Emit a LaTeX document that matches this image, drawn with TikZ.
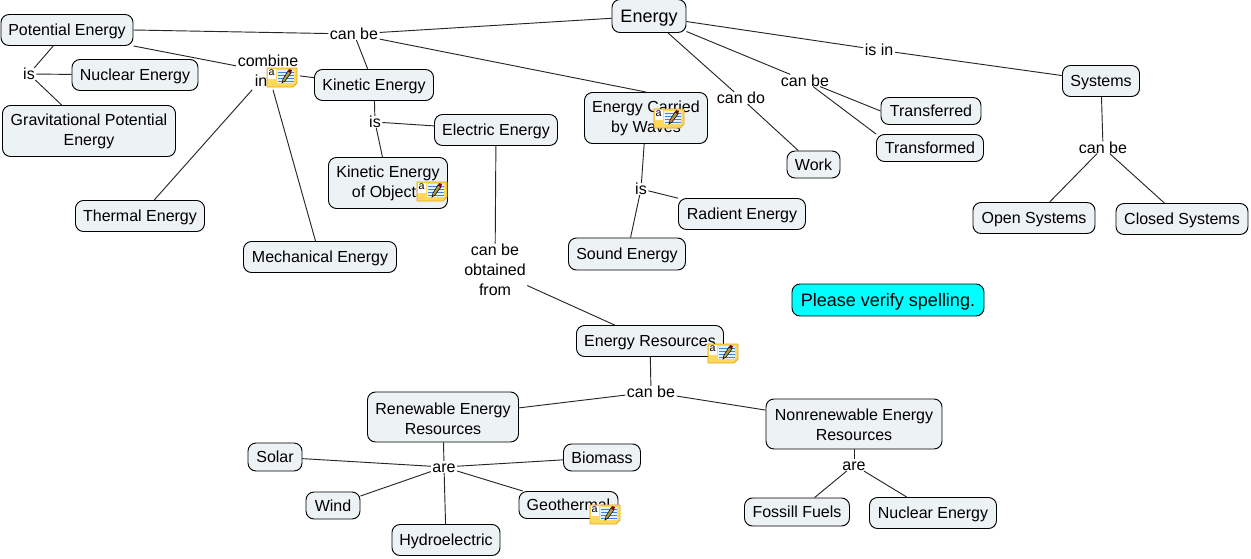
\documentclass[tikz,border=0pt]{standalone}
\usepackage{fontspec}
\setmainfont{Liberation Sans}
\usetikzlibrary{
    positioning,
    calc
}
\definecolor{conceptfill}{rgb}{0.93, 0.95, 0.96}
\definecolor{verifyfill}{rgb}{0.0, 1.0, 1.0}
\definecolor{notefill}{rgb}{1.0, 0.85, 0.35}
\definecolor{noteedge}{rgb}{0.88, 0.66, 0.10}
\definecolor{notepage}{rgb}{0.90, 0.95, 1.0}
\definecolor{noteline}{rgb}{0.25, 0.50, 0.85}
\definecolor{linkgray}{rgb}{0.15, 0.15, 0.15}
\tikzstyle{concept} = [
    rectangle,
    rounded corners=6pt,
    draw=black,
    line width=0.7pt,
    fill=conceptfill,
    inner sep=0pt,
    align=center,
    text height=8.7pt,
    text depth=0pt,
    font=\fontsize{12}{15}\selectfont
]
\tikzstyle{linkword} = [
    inner xsep=1pt,
    inner ysep=0pt,
    align=center,
    text height=8.7pt,
    text depth=0pt,
    font=\fontsize{12}{15}\selectfont
]
\tikzstyle{twolines} = [
    text height=23.7pt,
    text depth=2.5pt
]
\tikzstyle{threelines} = [
    text height=38.7pt,
    text depth=2pt
]
\tikzstyle{bigtext} = [
    text height=9.7pt,
    text depth=0pt,
    font=\fontsize{13.5}{15}\selectfont
]
\tikzstyle{link} = [
    draw=linkgray,
    line width=0.7pt
]
\tikzset{
    notemark/.pic = {
        \draw[noteedge, fill=notefill, line width=0.6pt]
            (0,0) -- (30,0) -- (30,15) -- (26,19) -- (0,19) -- cycle;
        \fill[white] (1,1) rectangle (9,11);
        \fill[notepage] (10,2) rectangle (27,15);
        \foreach \y in {4,7,10,13}
            \draw[noteline, line width=0.6pt] (11,\y) -- (27,\y);
        \draw[black, fill=notefill!70!black, line width=0.4pt] (15,15) -- (16,11) -- (21,3) -- (24,5) -- (18,13) -- cycle;
        \fill[red!50!black] (21,3) -- (24,5) -- (25,2) -- (22,1) -- cycle;
        \node[inner sep=0pt, font=\fontsize{8}{8}\selectfont] at (4.5,5) {a};
    }
}
\begin{document}
\begin{tikzpicture}[x=0.75pt, y=-0.75pt]
    \useasboundingbox (0,0) rectangle (1251,558);

    % Top row
    \node[concept, bigtext, minimum width=74*0.75pt, minimum height=33*0.75pt] (energy) at (649,16) {Energy};
    \node[concept, minimum width=132*0.75pt, minimum height=31*0.75pt] (potential) at (67,30) {Potential Energy};
    \node[concept, minimum width=126*0.75pt, minimum height=31*0.75pt] (nuclearA) at (135,75) {Nuclear Energy};
    \node[concept, twolines, minimum width=173*0.75pt, minimum height=51*0.75pt] (gravity) at (89,131) {Gravitational Potential\\Energy};
    \node[concept, minimum width=119*0.75pt, minimum height=31*0.75pt] (kinetic) at (374,85) {Kinetic Energy};
    \node[concept, minimum width=123*0.75pt, minimum height=31*0.75pt] (electric) at (496,130) {Electric Energy};
    \node[concept, twolines, minimum width=119*0.75pt, minimum height=51*0.75pt] (objects) at (388,183) {Kinetic Energy\\of Objects};
    \node[concept, minimum width=129*0.75pt, minimum height=31*0.75pt] (thermal) at (140,216) {Thermal Energy};
    \node[concept, minimum width=153*0.75pt, minimum height=31*0.75pt] (mechanical) at (320,257) {Mechanical Energy};

    % Waves
    \node[concept, twolines, minimum width=123*0.75pt, minimum height=51*0.75pt] (waves) at (646,118) {Energy Carried\\by Waves};
    \node[concept, minimum width=127*0.75pt, minimum height=31*0.75pt] (radient) at (742,214) {Radient Energy};
    \node[concept, minimum width=117*0.75pt, minimum height=32*0.75pt] (sound) at (627,254) {Sound Energy};

    % Right side
    \node[concept, minimum width=53*0.75pt, minimum height=27*0.75pt] (work) at (813.5,164.5) {Work};
    \node[concept, minimum width=100*0.75pt, minimum height=27*0.75pt] (transferred) at (931,111) {Transferred};
    \node[concept, minimum width=107*0.75pt, minimum height=27*0.75pt] (transformed) at (930,148) {Transformed};
    \node[concept, minimum width=77*0.75pt, minimum height=31*0.75pt] (systems) at (1101,81) {Systems};
    \node[concept, minimum width=122*0.75pt, minimum height=31*0.75pt] (open) at (1034,218) {Open Systems};
    \node[concept, minimum width=132*0.75pt, minimum height=31*0.75pt] (closed) at (1182,219) {Closed Systems};
    \node[concept, bigtext, fill=verifyfill, minimum width=192*0.75pt, minimum height=32*0.75pt] (spelling) at (888,300) {Please verify spelling.};

    % Resources
    \node[concept, minimum width=147*0.75pt, minimum height=31*0.75pt] (resources) at (650,341) {Energy Resources};
    \node[concept, text height=26pt, minimum width=151*0.75pt, minimum height=50*0.75pt] (renewable) at (443,417) {Renewable Energy\\Resources};
    \node[concept, text height=25pt, minimum width=176*0.75pt, minimum height=50*0.75pt] (nonrenewable) at (854,424) {Nonrenewable Energy\\Resources};
    \node[concept, minimum width=54*0.75pt, minimum height=28*0.75pt] (solar) at (275,457) {Solar};
    \node[concept, minimum width=77*0.75pt, minimum height=27*0.75pt] (biomass) at (602,457.5) {Biomass};
    \node[concept, minimum width=54*0.75pt, minimum height=27*0.75pt] (wind) at (333,505.5) {Wind};
    \node[concept, minimum width=99*0.75pt, minimum height=27*0.75pt] (geothermal) at (568.5,505) {Geothermal};
    \node[concept, minimum width=108*0.75pt, minimum height=31*0.75pt] (hydro) at (446,540) {Hydroelectric};
    \node[concept, minimum width=105*0.75pt, minimum height=28*0.75pt] (fossil) at (797,512) {Fossill Fuels};
    \node[concept, minimum width=127*0.75pt, minimum height=31*0.75pt] (nuclearB) at (933,513) {Nuclear Energy};

    % Linking words
    \node[linkword] (canbeA) at (354,34) {can be};
    \node[linkword] (isA) at (29,74) {is};
    \node[linkword, twolines] (combine) at (268,72) {combine\\in\hspace*{10.5pt}};
    \node[linkword] (isB) at (375,122) {is};
    \node[linkword] (cando) at (741,98) {can do};
    \node[linkword] (canbeB) at (805,80.5) {can be};
    \node[linkword] (isin) at (879,50) {is in};
    \node[linkword] (canbeC) at (1103,147.5) {can be};
    \node[linkword] (isC) at (641,189) {is};
    \node[linkword, threelines] (obtained) at (495,271) {can be\\obtained\\from};
    \node[linkword] (canbeD) at (651,392) {can be};
    \node[linkword] (areA) at (444,467) {are};
    \node[linkword] (areB) at (854,465) {are};

    % Arrows
    \draw[link] (energy) -- (canbeA);
    \draw[link] (potential.east) -- (canbeA);
    \draw[link] (canbeA) -- (kinetic);
    \draw[link] (canbeA) -- (waves.north);
    \draw[link] (potential.south east) -- (combine);
    \draw[link] (potential) -- (isA);
    \draw[link] (isA) -- (nuclearA);
    \draw[link] (isA) -- (gravity);
    \draw[link] (combine) -- (kinetic);
    \draw[link] (combine) -- (thermal);
    \draw[link] (combine) -- (mechanical);
    \draw[link] (kinetic) -- (isB);
    \draw[link] (isB) -- (electric);
    \draw[link] (isB) -- (objects);
    \draw[link] (energy) -- (cando);
    \draw[link] (cando) -- (work);
    \draw[link] (energy) -- (canbeB);
    \draw[link] (canbeB) -- (transferred.west);
    \draw[link] (canbeB) -- (transformed.north west);
    \draw[link] (energy) -- (isin);
    \draw[link] (isin) -- (systems);
    \draw[link] (systems) -- (canbeC);
    \draw[link] (canbeC) -- (open);
    \draw[link] (canbeC) -- (closed);
    \draw[link] (waves) -- (isC);
    \draw[link] (isC) -- (radient);
    \draw[link] (isC) -- (sound);
    \draw[link] (electric) -- (obtained);
    \draw[link] (obtained) -- (resources);
    \draw[link] (resources) -- (canbeD);
    \draw[link] (canbeD) -- (renewable);
    \draw[link] (canbeD) -- (nonrenewable);
    \draw[link] (renewable) -- (areA);
    \draw[link] (areA) -- (solar);
    \draw[link] (areA) -- (biomass);
    \draw[link] (areA) -- (wind);
    \draw[link] (areA) -- (geothermal);
    \draw[link] (areA) -- (hydro);
    \draw[link] (nonrenewable) -- (areB);
    \draw[link] (areB) -- (fossil);
    \draw[link] (areB) -- (nuclearB);

    % Note marks
    \pic at (267,68) {notemark};
    \pic at (417,182) {notemark};
    \pic at (654,109) {notemark};
    \pic at (708,344) {notemark};
    \pic at (590,505) {notemark};
\end{tikzpicture}
\end{document}
